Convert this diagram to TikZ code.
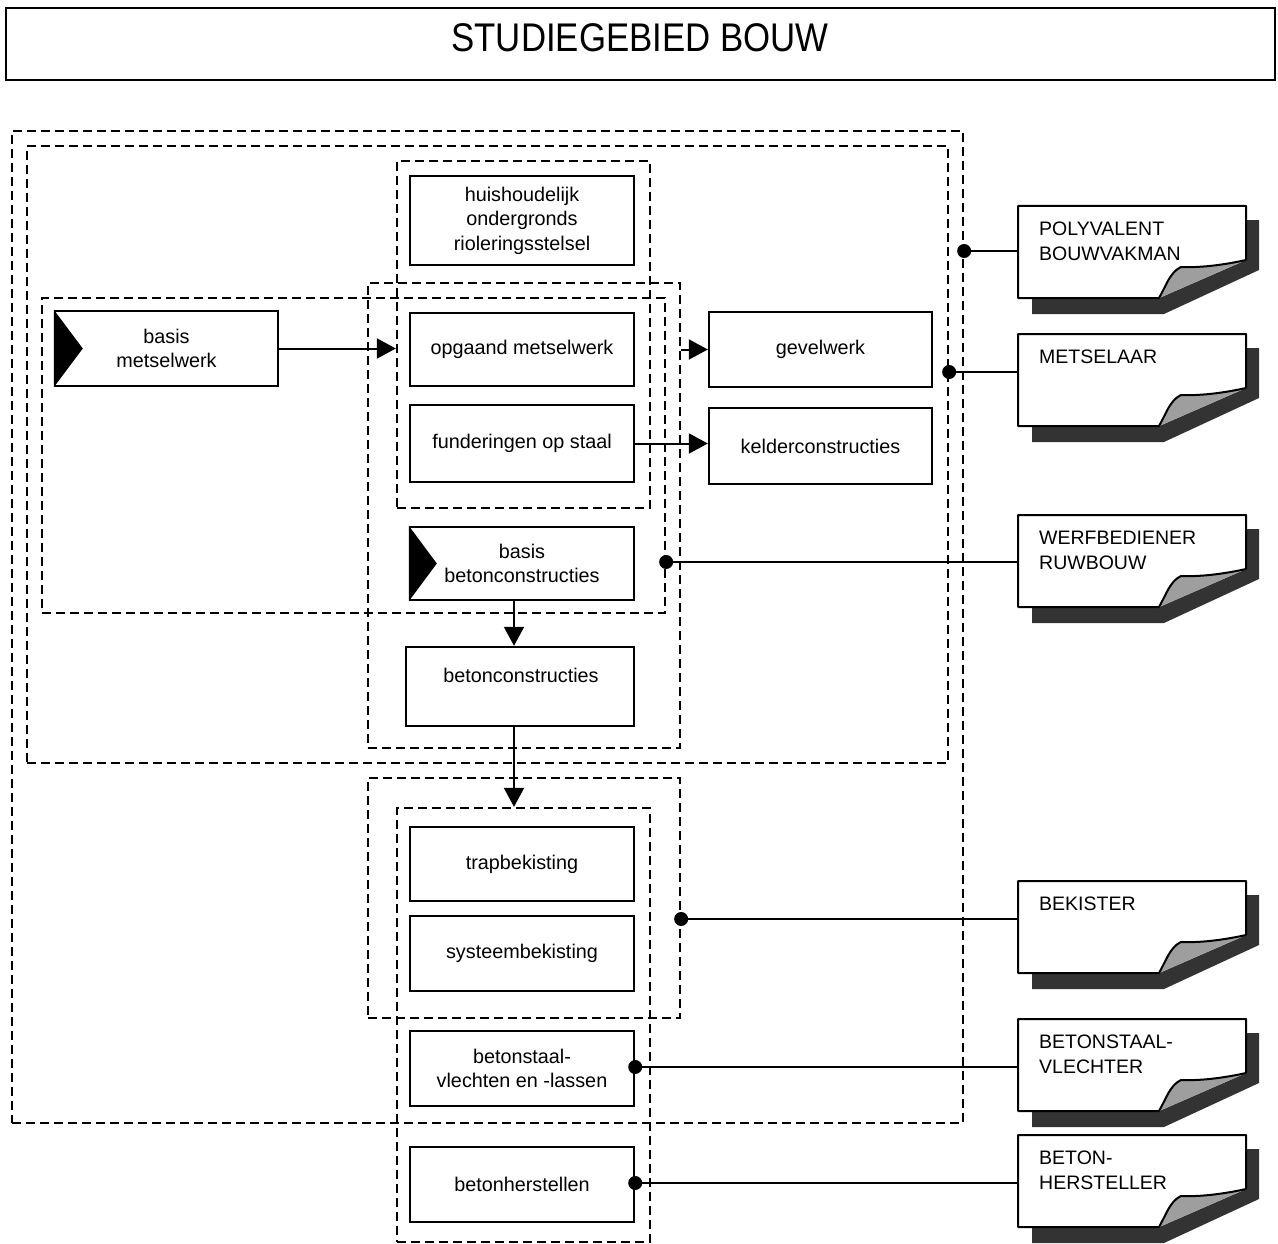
\documentclass[tikz,border=0pt]{standalone}
\usepackage{fontspec}
\setmainfont{Liberation Sans}
\usetikzlibrary{arrows.meta,calc}
\tikzset{
  box/.style={draw, line width=2.4pt, fill=white, inner sep=0pt, align=center,
    font=\fontsize{19.8}{24.5}\selectfont},
  grp/.style={draw, line width=2.3pt, dash pattern=on 9pt off 5pt, inner sep=0pt},
  arr/.style={line width=2pt, -{Triangle[length=19pt,width=20pt]}},
  conn/.style={line width=1.5pt},
  dotc/.style={circle, fill=black, inner sep=0pt, minimum size=14pt},
  doc/.style={inner sep=0pt, outer sep=0pt},
  doctext/.style={align=left, inner sep=0pt, font=\fontsize{19.5}{25}\selectfont},
  shadowc/.style={fill=black!80},
  curlc/.style={fill=black!38},
  txt/.style={inner sep=0pt, font=\fontsize{19.8}{24.5}\selectfont}
}
\newcommand\mkdoc[4]{%
  \begin{scope}[shift={(#2,#3)}]
    \fill[shadowc] (14,14) -- (241,14) -- (241,64) -- (146,108) -- (14,108) -- cycle;
    \fill[white] (0,0) -- (228,0) -- (228,54) -- (141,92) -- (0,92) -- cycle;
    \fill[curlc] (141,92) .. controls (148,80) and (152,66) .. (163,61)
       .. controls (185,62) and (210,58) .. (228,54) -- cycle;
    \draw[line width=2pt, line join=round] (228,54) -- (228,0) -- (0,0) -- (0,92) -- (141,92)
       .. controls (148,80) and (152,66) .. (163,61)
       .. controls (185,62) and (210,58) .. (228,54);
    \node[doc, minimum width=228pt, minimum height=92pt, anchor=north west] (#1) at (0,0) {};
    \node[doctext, anchor=north west] at (21,16) {#4};
  \end{scope}}
\begin{document}
\begin{tikzpicture}[x=1pt, y=-1pt]
\useasboundingbox (0,0) rectangle (1278,1244);

% title
\node[draw, line width=2.2pt, minimum width=1269pt, minimum height=72pt, inner sep=0pt] (title) at (640.5,44) {};
\node[inner sep=0pt] (titletext) at (640,38) {\scalebox{0.87}[1]{\fontsize{40}{40}\selectfont STUDIEGEBIED BOUW}};

% dashed groups
\node[grp, minimum width=951pt, minimum height=992pt] (gOuter) at (487.5,627) {};
\node[grp, minimum width=921pt, minimum height=617pt] (gSecond) at (487.5,454.5) {};
\node[grp, minimum width=253pt, minimum height=347pt] (gA) at (523.5,334.5) {};
\node[grp, minimum width=623pt, minimum height=315pt] (gB) at (353.5,455.5) {};
\node[grp, minimum width=312pt, minimum height=465pt] (gC) at (524,515.5) {};
\node[grp, minimum width=312pt, minimum height=240pt] (gD) at (524,898) {};
\node[grp, minimum width=253pt, minimum height=434pt] (gE) at (523.5,1025) {};

% boxes
\node[box, minimum width=224pt, minimum height=89pt] (hh) at (522,220.5) {huishoudelijk\\ondergronds\\rioleringsstelsel};
\node[box, minimum width=223pt, minimum height=75pt] (bm) at (166.5,348.5) {basis\\metselwerk};
\node[box, minimum width=224pt, minimum height=73pt] (om) at (522,349.5) {opgaand metselwerk};
\node[box, minimum width=224pt, minimum height=77pt] (fs) at (522,443.5) {funderingen op staal};
\node[box, minimum width=224pt, minimum height=73pt] (bb) at (522,563.5) {basis\\betonconstructies};
\node[box, minimum width=228pt, minimum height=79pt] (bc) at (520,686.5) {};
\node[txt] (bctext) at (521,675) {betonconstructies};
\node[box, minimum width=223pt, minimum height=75pt] (gv) at (820.5,349.5) {gevelwerk};
\node[box, minimum width=223pt, minimum height=76pt] (kc) at (820.5,446) {kelderconstructies};
\node[box, minimum width=224pt, minimum height=74pt] (tb) at (522,864) {trapbekisting};
\node[box, minimum width=224pt, minimum height=75pt] (sb) at (522,953.5) {systeembekisting};
\node[box, minimum width=224pt, minimum height=75pt] (bv) at (522,1068.5) {betonstaal-\\vlechten en -lassen};
\node[box, minimum width=224pt, minimum height=75pt] (bh) at (522,1184.5) {betonherstellen};

% black triangles of the basis boxes
\fill (bm.north west) -- ($(bm.west)+(29,0)$) -- (bm.south west) -- cycle;
\fill (bb.north west) -- ($(bb.west)+(28,0)$) -- (bb.south west) -- cycle;

% arrows
\draw[arr] (bm.east) -- (bm.east -| gA.west);
\draw[arr] (gC.east |- gv.west) -- (gv.west);
\draw[arr] (fs.east) -- (fs.east -| kc.west);
\coordinate (colx) at (514,0);
\draw[arr] (colx |- bb.south) -- (colx |- bc.north);
\draw[arr] (colx |- bc.south) -- (colx |- gE.north);

% documents
\mkdoc{docP}{1018}{206}{POLYVALENT\\BOUWVAKMAN}
\mkdoc{docM}{1018}{334}{METSELAAR}
\mkdoc{docW}{1018}{515}{WERFBEDIENER\\RUWBOUW}
\mkdoc{docB}{1018}{881}{BEKISTER}
\mkdoc{docS}{1018}{1019}{BETONSTAAL-\\VLECHTER}
\mkdoc{docH}{1018}{1135}{BETON-\\HERSTELLER}

% connectors with dots
\coordinate (yP) at (0,251);
\coordinate (yM) at (0,372);
\coordinate (yW) at (0,562);
\coordinate (yB) at (0,919);
\coordinate (yS) at (0,1067);
\coordinate (yH) at (0,1183);
\draw[conn] (gOuter.east |- yP) -- (docP.west |- yP);
\node[dotc] (dP) at (gOuter.east |- yP) {};
\draw[conn] (gSecond.east |- yM) -- (docM.west |- yM);
\node[dotc] (dM) at (gSecond.east |- yM) {};
\draw[conn] (gB.east |- yW) -- (docW.west |- yW);
\node[dotc] (dW) at (gB.east |- yW) {};
\draw[conn] (gD.east |- yB) -- (docB.west |- yB);
\node[dotc] (dB) at (gD.east |- yB) {};
\draw[conn] (bv.east |- yS) -- (docS.west |- yS);
\node[dotc] (dS) at (bv.east |- yS) {};
\draw[conn] (bh.east |- yH) -- (docH.west |- yH);
\node[dotc] (dH) at (bh.east |- yH) {};
\end{tikzpicture}
\end{document}
